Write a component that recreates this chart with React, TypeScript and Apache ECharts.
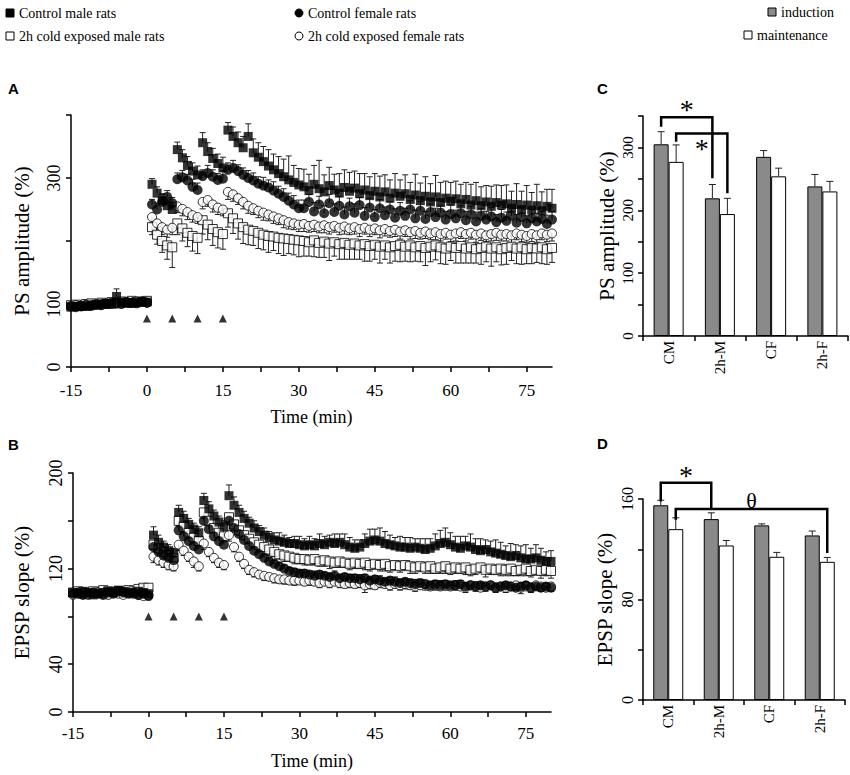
import React, { useEffect, useRef } from "react";
import * as echarts from "echarts";

const FONT = "Liberation Serif";

// ---------- time axis (min) ----------
const TIME = [
  -15, -14, -13, -12, -11, -10, -9, -8, -7, -6, -5, -4, -3, -2, -1, 0,
  1, 2, 3, 4, 5, 6, 7, 8, 9, 10, 11, 12, 13, 14, 15, 16, 17, 18, 19, 20,
  21, 22, 23, 24, 25, 26, 27, 28, 29, 30, 31, 32, 33, 34, 35, 36, 37, 38, 39, 40,
  41, 42, 43, 44, 45, 46, 47, 48, 49, 50, 51, 52, 53, 54, 55, 56, 57, 58, 59, 60,
  61, 62, 63, 64, 65, 66, 67, 68, 69, 70, 71, 72, 73, 74, 75, 76, 77, 78, 79, 80,
];
const X_TICKS = [-15, -7.5, 0, 7.5, 15, 22.5, 30, 37.5, 45, 52.5, 60, 67.5, 75];
const X_LABELS = [-15, 0, 15, 30, 45, 60, 75];
const HFS_TIMES = [0, 5, 10, 15];
const A_HFS_Y = 77;
const B_HFS_Y = 80;

const A_Y_LABELS = [0, 100, 300];
const B_Y_LABELS = [0, 40, 120, 200];
const C_Y_LABELS = [0, 100, 200, 300];
const D_Y_LABELS = [0, 80, 160];

// ---------- Panel A: PS amplitude (%) ----------
const A_CM = [
  95, 96, 97, 96, 98, 99, 100, 101, 100, 112, 103, 102, 101, 103, 104, 103,
  290, 276, 264, 256, 250, 345, 332, 320, 311, 305,
  356, 342, 331, 323, 316, 376, 366, 356, 348, 366,
  340, 333, 326, 319, 313, 307, 302, 297, 293, 289,
  286, 280, 290, 283, 278, 288, 281, 276, 285, 279,
  284, 275, 281, 272, 279, 270, 278, 268, 276, 271,
  275, 266, 273, 264, 271, 262, 270, 261, 268, 263,
  267, 259, 266, 257, 264, 256, 262, 255, 261, 257,
  259, 252, 258, 250, 257, 249, 256, 248, 255, 252,
];
const A_CM_ERR = [
  5, 6, 5, 6, 5, 6, 7, 6, 6, 12, 6, 5, 6, 7, 6, 6,
  9, 10, 11, 12, 11, 12, 13, 14, 13, 14,
  16, 14, 16, 15, 17, 12, 15, 17, 18, 20,
  22, 23, 24, 26, 25, 27, 28, 38, 27, 26,
  28, 26, 30, 45, 27, 29, 25, 31, 28, 30,
  27, 32, 26, 30, 28, 33, 27, 29, 31, 26,
  30, 27, 33, 28, 31, 29, 34, 32, 27, 30,
  28, 31, 27, 33, 29, 30, 26, 32, 28, 31,
  30, 27, 33, 29, 31, 28, 34, 30, 27, 30,
];
const A_CF = [
  97, 95, 96, 98, 97, 99, 98, 100, 102, 101, 100, 103, 102, 101, 104, 102,
  258, 250, 262, 270, 260, 298, 301, 296, 286, 281,
  303, 308, 302, 297, 299, 313, 316, 311, 305, 300,
  296, 291, 288, 285, 280, 275, 270, 264, 258, 252,
  252, 262, 247, 258, 244, 260, 246, 256, 242, 255,
  245, 257, 240, 253, 238, 252, 241, 250, 237, 248,
  240, 250, 236, 248, 235, 246, 238, 245, 234, 243,
  236, 244, 233, 242, 231, 240, 234, 239, 230, 237,
  232, 240, 229, 238, 228, 236, 231, 235, 227, 234,
];
const A_CF_ERR = [
  5, 4, 5, 4, 5, 5, 4, 5, 6, 5, 4, 5, 5, 4, 5, 5,
  8, 10, 12, 10, 9, 10, 11, 10, 12, 11,
  10, 12, 11, 10, 12, 11, 12, 10, 11, 12,
  12, 11, 13, 12, 14, 12, 13, 12, 14, 13,
  13, 12, 14, 13, 12, 14, 13, 15, 12, 13,
  14, 12, 13, 15, 12, 14, 13, 12, 14, 13,
  12, 14, 13, 15, 12, 13, 14, 12, 13, 14,
  13, 12, 14, 13, 15, 12, 13, 14, 12, 13,
  14, 12, 13, 15, 12, 14, 13, 12, 14, 13,
];
const A_OM = [
  98, 99, 97, 100, 101, 99, 102, 100, 103, 101, 104, 102, 105, 103, 104, 105,
  222, 210, 200, 193, 190, 228, 220, 213, 208, 205,
  233, 226, 219, 214, 211, 244, 236, 228, 222, 218,
  216, 213, 210, 208, 207, 205, 204, 203, 202, 201,
  200, 198, 201, 197, 199, 196, 198, 195, 197, 194,
  196, 193, 195, 192, 194, 191, 193, 190, 192, 194,
  191, 193, 190, 192, 189, 191, 193, 190, 188, 191,
  189, 192, 188, 190, 187, 189, 191, 188, 190, 187,
  189, 191, 188, 190, 187, 189, 188, 190, 187, 189,
];
const A_OM_ERR = [
  4, 5, 4, 5, 4, 5, 6, 5, 4, 5, 5, 6, 5, 4, 5, 6,
  12, 15, 18, 22, 32, 18, 20, 22, 24, 25,
  22, 24, 26, 25, 24, 22, 24, 25, 26, 24,
  23, 25, 24, 26, 22, 25, 27, 23, 24, 26,
  24, 22, 26, 23, 25, 27, 22, 24, 26, 23,
  25, 22, 27, 24, 23, 26, 22, 25, 24, 27,
  23, 26, 22, 25, 28, 24, 23, 26, 25, 22,
  24, 27, 23, 25, 22, 26, 24, 28, 23, 25,
  26, 22, 24, 27, 23, 25, 22, 26, 24, 23,
];
const A_OF = [
  96, 98, 97, 99, 98, 100, 99, 101, 100, 102, 101, 103, 102, 104, 103, 102,
  238, 228, 222, 218, 221, 255, 251, 246, 241, 238,
  262, 265, 258, 253, 250, 278, 274, 268, 262, 256,
  252, 248, 245, 242, 239, 236, 233, 230, 228, 226,
  227, 224, 226, 223, 225, 222, 224, 221, 223, 220,
  222, 219, 221, 218, 220, 217, 219, 216, 218, 215,
  217, 214, 216, 213, 215, 212, 214, 211, 213, 210,
  212, 214, 211, 213, 210, 212, 209, 211, 213, 210,
  211, 209, 212, 210, 208, 211, 209, 212, 210, 212,
];
const A_OF_ERR = [
  4, 5, 4, 4, 5, 4, 5, 4, 5, 4, 5, 4, 4, 5, 4, 5,
  10, 11, 12, 12, 11, 10, 11, 12, 11, 10,
  11, 10, 12, 11, 10, 12, 11, 10, 11, 12,
  10, 11, 12, 10, 11, 10, 12, 11, 10, 11,
  12, 10, 11, 10, 12, 11, 10, 11, 12, 10,
  11, 12, 10, 11, 10, 12, 11, 10, 11, 12,
  10, 11, 12, 10, 11, 10, 12, 11, 10, 11,
  12, 10, 11, 10, 12, 11, 10, 11, 12, 10,
  11, 12, 10, 11, 10, 12, 11, 10, 11, 12,
];

// ---------- Panel B: EPSP slope (%) ----------
const B_CM = [
  100, 99, 101, 100, 98, 99, 100, 101, 100, 102, 101, 100, 99, 101, 100, 99,
  148, 142, 138, 135, 133, 167, 162, 157, 153, 150,
  177, 170, 164, 159, 155, 181, 173, 167, 162, 158,
  154, 151, 148, 146, 144, 143, 142, 141, 141, 140,
  139, 140, 139, 141, 140, 142, 141, 142, 140, 138,
  137, 138, 141, 143, 144, 143, 141, 140, 139, 138,
  138, 137, 138, 137, 136, 137, 139, 141, 142, 140,
  138, 137, 139, 138, 136, 135, 136, 134, 133, 132,
  131, 130, 131, 129, 128, 128, 129, 127, 126, 126,
];
const B_CM_ERR = [
  2, 3, 2, 3, 2, 2, 3, 2, 3, 2, 3, 2, 2, 3, 2, 3,
  7, 6, 5, 5, 4, 6, 6, 5, 5, 5,
  6, 6, 5, 5, 5, 9, 7, 6, 6, 5,
  6, 5, 6, 5, 6, 7, 6, 5, 6, 7,
  6, 7, 6, 8, 7, 6, 8, 7, 9, 8,
  7, 6, 8, 10, 9, 11, 10, 8, 7, 9,
  8, 9, 7, 8, 9, 8, 10, 11, 12, 10,
  9, 10, 8, 11, 9, 10, 8, 9, 11, 10,
  8, 11, 9, 10, 12, 9, 11, 10, 8, 9,
];
const B_OM = [
  100, 101, 99, 100, 101, 100, 102, 101, 100, 101, 100, 102, 101, 103, 104, 104,
  140, 137, 134, 131, 129, 160, 155, 150, 146, 143,
  167, 160, 154, 150, 147, 163, 157, 152, 148, 145,
  142, 140, 138, 136, 134, 132, 131, 130, 129, 128,
  128, 127, 128, 126, 127, 126, 125, 126, 125, 124,
  125, 124, 125, 123, 124, 123, 124, 122, 123, 122,
  123, 122, 121, 122, 121, 122, 120, 121, 122, 120,
  121, 120, 121, 119, 120, 121, 119, 120, 119, 120,
  119, 120, 118, 119, 120, 118, 119, 118, 119, 118,
];
const B_OM_ERR = [
  2, 2, 3, 2, 2, 3, 2, 2, 3, 2, 3, 2, 3, 4, 5, 5,
  4, 4, 4, 3, 3, 5, 4, 4, 4, 4,
  5, 4, 4, 4, 4, 5, 5, 4, 4, 4,
  4, 5, 4, 5, 4, 4, 5, 4, 5, 4,
  5, 4, 5, 4, 5, 6, 4, 5, 4, 5,
  5, 4, 6, 5, 4, 5, 6, 5, 4, 5,
  4, 6, 5, 4, 5, 6, 4, 5, 6, 5,
  5, 4, 6, 5, 5, 4, 6, 5, 4, 6,
  5, 6, 4, 5, 6, 5, 4, 6, 5, 6,
];
const B_CF = [
  99, 100, 98, 99, 100, 99, 98, 100, 99, 101, 100, 99, 100, 98, 99, 97,
  138, 134, 131, 129, 127, 152, 147, 143, 139, 136,
  160, 153, 147, 143, 140, 160, 154, 149, 144, 139,
  135, 132, 129, 126, 124, 122, 120, 118, 117, 116,
  116, 115, 114, 115, 114, 113, 114, 112, 113, 112,
  112, 111, 112, 110, 111, 110, 109, 110, 109, 108,
  109, 108, 107, 108, 107, 106, 107, 106, 107, 106,
  106, 107, 105, 106, 105, 106, 105, 106, 104, 105,
  106, 105, 104, 105, 106, 104, 105, 104, 105, 104,
];
const B_CF_ERR = [
  2, 2, 3, 2, 2, 2, 3, 2, 2, 3, 2, 2, 3, 2, 2, 3,
  4, 3, 3, 3, 3, 4, 3, 3, 3, 3,
  4, 3, 3, 3, 3, 4, 3, 3, 3, 3,
  3, 3, 3, 3, 3, 3, 3, 3, 3, 3,
  3, 3, 4, 3, 3, 3, 4, 3, 3, 3,
  3, 4, 3, 3, 3, 4, 3, 3, 4, 3,
  3, 3, 4, 3, 3, 3, 3, 4, 3, 3,
  4, 3, 3, 3, 4, 3, 3, 3, 4, 3,
  3, 3, 4, 3, 3, 4, 3, 3, 3, 4,
];
const B_OF = [
  98, 99, 100, 98, 99, 100, 99, 98, 100, 99, 98, 100, 99, 98, 97, 98,
  130, 127, 125, 123, 122, 140, 135, 130, 126, 122,
  141, 134, 129, 125, 123, 148, 138, 130, 124, 119,
  117, 115, 114, 113, 112, 111, 111, 110, 110, 110,
  109, 110, 109, 108, 109, 108, 109, 108, 107, 108,
  107, 108, 106, 107, 106, 108, 107, 106, 107, 106,
  107, 106, 105, 106, 107, 105, 106, 105, 106, 105,
  106, 105, 104, 106, 105, 104, 105, 106, 104, 105,
  104, 105, 106, 104, 105, 104, 106, 105, 104, 105,
];
const B_OF_ERR = [
  2, 2, 2, 3, 2, 2, 2, 3, 2, 2, 2, 3, 2, 2, 2, 3,
  5, 4, 4, 4, 4, 5, 4, 4, 5, 4,
  5, 4, 4, 4, 4, 5, 4, 4, 4, 4,
  4, 3, 4, 3, 4, 3, 4, 3, 4, 3,
  3, 4, 3, 4, 3, 4, 3, 4, 3, 4,
  3, 4, 6, 4, 3, 4, 3, 4, 3, 4,
  4, 3, 4, 3, 5, 3, 4, 3, 4, 3,
  4, 3, 4, 3, 4, 3, 4, 3, 4, 3,
  4, 3, 4, 5, 3, 4, 3, 4, 3, 4,
];

// ---------- Panels C & D: bar charts ----------
const CATS = ["CM", "2h-M", "CF", "2h-F"];
const C_IND = [305, 219, 285, 238];
const C_IND_ERR = [20, 22, 10, 19];
const C_MAIN = [277, 194, 254, 230];
const C_MAIN_ERR = [27, 25, 13, 16];
const D_IND = [155, 144, 139, 131];
const D_IND_ERR = [4, 5, 1.2, 3.5];
const D_MAIN = [136, 123, 114, 110];
const D_MAIN_ERR = [9, 4, 3.5, 3.5];

// significance brackets: bar 0 = induction, 1 = maintenance
const C_BRACKETS = [
  { from: 0, fromBar: 0, to: 1, toBar: 0, top: 348, fromEnd: 333, toEnd: 251, label: "*", labelAt: 361 },
  { from: 0, fromBar: 1, to: 1, toBar: 1, top: 322, fromEnd: 309, toEnd: 227, label: "*", labelAt: 299 },
];
const D_BRACKETS = [
  { from: 0, fromBar: 0, to: 1, toBar: 0, top: 173, fromEnd: 158, toEnd: 152, label: "*", labelAt: 178.6 },
  { from: 0, fromBar: 1, to: 3, toBar: 1, top: 152, fromEnd: 143.5, toEnd: 117, label: "θ", labelAt: 158.7 },
];

const NAME_CM = "Control male rats";
const NAME_OM = "2h cold exposed male rats";
const NAME_CF = "Control female rats";
const NAME_OF = "2h cold exposed female rats";

const BAR_W = 15;

function pairs(vals: number[]) {
  return TIME.map((t, i) => [t, vals[i]]);
}
function triples(vals: number[], errs: number[]) {
  return TIME.map((t, i) => [t, vals[i], errs[i]]);
}

function errRender(dir: number, offset: number, cap: number, width = 1) {
  return (params: any, api: any) => {
    const x = api.value(0);
    const y = api.value(1);
    const e = api.value(2);
    const p0 = api.coord([x, y]);
    const p1 = api.coord([x, y + dir * e]);
    const cx = p0[0] + offset;
    return {
      type: "group",
      children: [
        { type: "line", shape: { x1: cx, y1: p0[1], x2: cx, y2: p1[1] }, style: { stroke: "#222", lineWidth: width } },
        { type: "line", shape: { x1: cx - cap, y1: p1[1], x2: cx + cap, y2: p1[1] }, style: { stroke: "#222", lineWidth: width } },
      ],
    };
  };
}

function bracketRender(list: any[]) {
  return (params: any, api: any) => {
    const b = list[params.dataIndex];
    const half = BAR_W / 2;
    const x1 = api.coord([b.from, 0])[0] + (b.fromBar ? half : -half);
    const x2 = api.coord([b.to, 0])[0] + (b.toBar ? half : -half);
    const yTop = api.coord([0, b.top])[1];
    const y1 = api.coord([0, b.fromEnd])[1];
    const y2 = api.coord([0, b.toEnd])[1];
    const yl = api.coord([0, b.labelAt])[1];
    return {
      type: "group",
      children: [
        {
          type: "polyline",
          shape: { points: [[x1, y1], [x1, yTop], [x2, yTop], [x2, y2]] },
          style: { stroke: "#000", lineWidth: 2.5, fill: "none" },
        },
        {
          type: "text",
          x: (x1 + x2) / 2,
          y: yl,
          style: {
            text: b.label,
            fontFamily: FONT,
            fontSize: b.label === "*" ? 28 : 22,
            fill: "#000",
            align: "center",
            verticalAlign: "middle",
          },
        },
      ],
    };
  };
}

const axisLine = { onZero: false, lineStyle: { color: "#000", width: 1.5 } };
const tickStyle = { lineStyle: { color: "#000", width: 1.5 } };
const nameStyle = { fontFamily: FONT, fontSize: 18, fontWeight: 400, color: "#000" };

function timeXAxis(grid: number, nameGap: number, margin: number) {
  return {
    gridIndex: grid,
    type: "value",
    min: -15,
    max: 80,
    interval: 7.5,
    axisLine,
    splitLine: { show: false },
    axisTick: { show: true, length: 5, customValues: X_TICKS, ...tickStyle },
    axisLabel: { customValues: X_LABELS, fontFamily: FONT, fontSize: 17, color: "#000", margin },
    name: "Time (min)",
    nameLocation: "middle",
    nameGap,
    nameTextStyle: nameStyle,
  };
}

function valueYAxis(grid: number, max: number, interval: number, labels: number[], name: string, nameGap: number, fontSize: number, margin: number) {
  return {
    gridIndex: grid,
    type: "value",
    min: 0,
    max,
    interval,
    axisLine: { show: true, ...axisLine },
    splitLine: { show: false },
    axisTick: { show: true, length: 5, ...tickStyle },
    axisLabel: { customValues: labels, rotate: 90, fontFamily: FONT, fontSize, color: "#000", margin },
    name,
    nameLocation: "middle",
    nameGap,
    nameRotate: 90,
    nameTextStyle: { ...nameStyle, fontSize: 21 },
  };
}

function catXAxis(grid: number) {
  return {
    gridIndex: grid,
    type: "category",
    data: CATS,
    boundaryGap: true,
    axisLine,
    axisTick: { show: true, length: 5, alignWithLabel: false, ...tickStyle },
    axisLabel: { rotate: 90, fontFamily: FONT, fontSize: 15, color: "#000", margin: 5 },
  };
}

const filledSquare = { color: "#000" };
const openSquare = { color: "#fff", borderColor: "#000", borderWidth: 1 };
const filledCircle = { color: "#000" };
const openCircle = { color: "#fff", borderColor: "#000", borderWidth: 1 };
const indStyle = { color: "#8a8a8a", borderColor: "#000", borderWidth: 1 };
const mainStyle = { color: "#fff", borderColor: "#000", borderWidth: 1 };

function timeSeries(ax: number, cm: number[], cmE: number[], om: number[], omE: number[], cf: number[], cfE: number[], of: number[], ofE: number[], hfsY: number) {
  const base = { xAxisIndex: ax, yAxisIndex: ax };
  return [
    { ...base, type: "custom", renderItem: errRender(-1, 0, 3), data: triples(om, omE), z: 1, silent: true },
    { ...base, type: "custom", renderItem: errRender(-1, 0, 3), data: triples(of, ofE), z: 1, silent: true },
    { ...base, type: "custom", renderItem: errRender(1, 0, 3), data: triples(cf, cfE), z: 1, silent: true },
    { ...base, type: "custom", renderItem: errRender(1, 0, 3), data: triples(cm, cmE), z: 1, silent: true },
    { ...base, type: "scatter", name: NAME_OM, symbol: "rect", symbolSize: 9, itemStyle: openSquare, data: pairs(om), z: 2 },
    { ...base, type: "scatter", name: NAME_OF, symbol: "circle", symbolSize: 9, itemStyle: openCircle, data: pairs(of), z: 3 },
    { ...base, type: "scatter", name: NAME_CF, symbol: "circle", symbolSize: 10, itemStyle: filledCircle, data: pairs(cf), z: 4 },
    { ...base, type: "scatter", name: NAME_CM, symbol: "rect", symbolSize: 9, itemStyle: filledSquare, data: pairs(cm), z: 5 },
    {
      ...base,
      type: "scatter",
      name: "HFS",
      symbol: "triangle",
      symbolSize: 8,
      itemStyle: { color: "#000" },
      data: HFS_TIMES.map((t) => [t, hfsY]),
      z: 5,
    },
  ];
}

function barSeries(ax: number, ind: number[], indE: number[], main: number[], mainE: number[], brackets: any[]) {
  const base = { xAxisIndex: ax, yAxisIndex: ax };
  return [
    { ...base, type: "bar", name: "induction", data: ind, barWidth: BAR_W, barGap: "0%", itemStyle: indStyle, z: 2 },
    { ...base, type: "bar", name: "maintenance", data: main, barWidth: BAR_W, barGap: "0%", itemStyle: mainStyle, z: 2 },
    { ...base, type: "custom", renderItem: errRender(1, -BAR_W / 2, 3.5), data: ind.map((v, i) => [i, v, indE[i]]), z: 3, silent: true },
    { ...base, type: "custom", renderItem: errRender(1, BAR_W / 2, 3.5), data: main.map((v, i) => [i, v, mainE[i]]), z: 3, silent: true },
    {
      ...base,
      type: "custom",
      renderItem: bracketRender(brackets),
      data: brackets.map((b) => [b.from, b.top]),
      clip: false,
      z: 4,
      silent: true,
    },
  ];
}

// ---------- legend (drawn as graphic so the serif font is kept) ----------
const LEGEND = [
  { name: NAME_CM, shape: "rect", style: filledSquare, x: 10, y: 13 },
  { name: NAME_OM, shape: "rect", style: openSquare, x: 10, y: 36 },
  { name: NAME_CF, shape: "circle", style: filledCircle, x: 299, y: 13 },
  { name: NAME_OF, shape: "circle", style: openCircle, x: 299, y: 36 },
  { name: "induction", shape: "rect", style: indStyle, x: 772, y: 12 },
  { name: "maintenance", shape: "rect", style: mainStyle, x: 748, y: 35 },
];

function legendGraphic() {
  return LEGEND.map((it) => {
    const fill = it.style.color;
    const stroke = (it.style as any).borderColor || "#000";
    const icon =
      it.shape === "rect"
        ? { type: "rect", shape: { x: -4, y: -4, width: 8, height: 8 }, style: { fill, stroke, lineWidth: 1 } }
        : { type: "circle", shape: { cx: 0, cy: 0, r: 4 }, style: { fill, stroke, lineWidth: 1 } };
    return {
      type: "group",
      x: it.x,
      y: it.y,
      children: [
        icon,
        {
          type: "text",
          x: 9,
          y: 0,
          style: { text: it.name, fontFamily: FONT, fontSize: 14, fill: "#000", verticalAlign: "middle", align: "left" },
        },
      ],
    };
  });
}

function letter(text: string, x: number, y: number) {
  return {
    type: "text",
    x,
    y,
    style: {
      text,
      fontFamily: "Liberation Sans",
      fontWeight: "bold",
      fontSize: 15,
      fill: "#000",
      verticalAlign: "middle",
    },
  };
}

function buildOption() {
  return {
    animation: false,
    backgroundColor: "#fff",
    textStyle: { fontFamily: FONT, color: "#000" },
    grid: [
      { left: 71, top: 115, width: 481, height: 252 },
      { left: 73, top: 473, width: 478, height: 239 },
      { left: 643, top: 116, width: 205, height: 220 },
      { left: 643, top: 499, width: 202, height: 201 },
    ],
    xAxis: [timeXAxis(0, 41, 15), timeXAxis(1, 40, 13), catXAxis(2), catXAxis(3)],
    yAxis: [
      valueYAxis(0, 400, 100, A_Y_LABELS, "PS amplitude (%)", 39, 18, 8),
      valueYAxis(1, 200, 40, B_Y_LABELS, "EPSP slope (%)", 41, 18, 8),
      valueYAxis(2, 350, 50, C_Y_LABELS, "PS amplitude (%)", 26, 15, 8),
      valueYAxis(3, 160, 40, D_Y_LABELS, "EPSP slope (%)", 28, 16, 8),
    ],
    graphic: [
      ...legendGraphic(),
      letter("A", 8, 88),
      letter("B", 8, 444),
      letter("C", 597, 88),
      letter("D", 597, 443),
    ],
    series: [
      ...timeSeries(0, A_CM, A_CM_ERR, A_OM, A_OM_ERR, A_CF, A_CF_ERR, A_OF, A_OF_ERR, A_HFS_Y),
      ...timeSeries(1, B_CM, B_CM_ERR, B_OM, B_OM_ERR, B_CF, B_CF_ERR, B_OF, B_OF_ERR, B_HFS_Y),
      ...barSeries(2, C_IND, C_IND_ERR, C_MAIN, C_MAIN_ERR, C_BRACKETS),
      ...barSeries(3, D_IND, D_IND_ERR, D_MAIN, D_MAIN_ERR, D_BRACKETS),
    ],
  };
}

export default function App() {
  const ref = useRef<HTMLDivElement>(null);
  useEffect(() => {
    document.body.style.margin = "0";
    const chart = echarts.init(ref.current as HTMLDivElement, null, { renderer: "svg" });
    chart.setOption(buildOption() as any);
    return () => chart.dispose();
  }, []);
  return <div ref={ref} style={{ width: 850, height: 775 }} />;
}
